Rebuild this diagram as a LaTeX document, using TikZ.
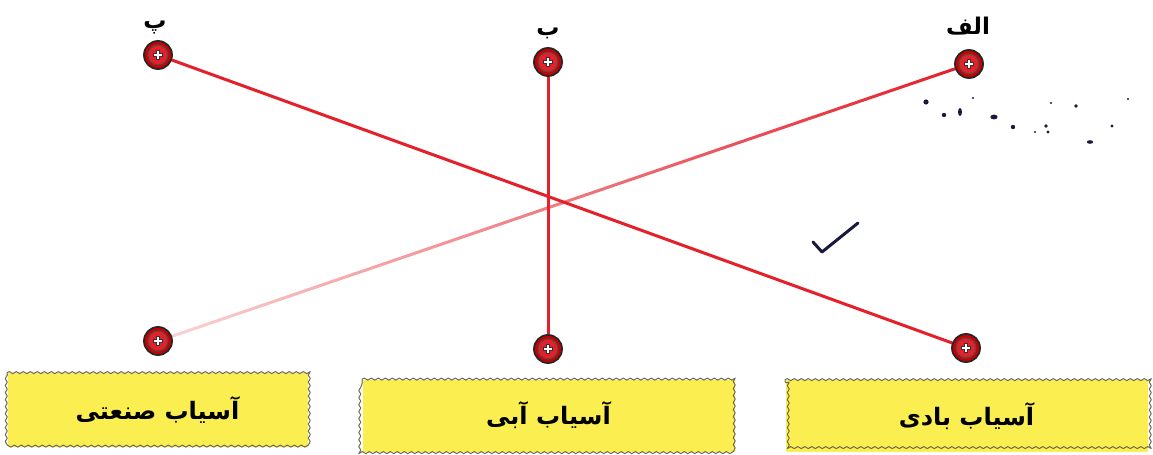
\documentclass[tikz,border=0pt]{standalone}
\usepackage{fontspec}
\newfontfamily\arabicfont[Script=Arabic,BoldFont={DejaVu Sans Bold}]{DejaVu Sans}
\TeXXeTstate=1
\usetikzlibrary{decorations.pathmorphing,fadings}
\definecolor{wire}{RGB}{228,32,42}
\definecolor{boxyellow}{RGB}{250,238,80}
\definecolor{boxedge}{RGB}{110,105,80}
\definecolor{ink}{RGB}{25,25,60}
\tikzfading[name=fadewest, left color=transparent!80, middle color=transparent!35, right color=transparent!0]
\tikzset{
  screw/.style={circle, draw=black!85, line width=0.9pt, fill=red!80!black, minimum size=14pt, inner sep=0pt,
    path picture={
      \fill[wire] (path picture bounding box.center) circle (5pt);
      \draw[black!70, line width=0.5pt] (path picture bounding box.center) circle (5pt);
      \draw[black!80, line width=2.4pt] ([xshift=-2.3pt]path picture bounding box.center) -- ([xshift=2.3pt]path picture bounding box.center);
      \draw[black!80, line width=2.4pt] ([yshift=-2.3pt]path picture bounding box.center) -- ([yshift=2.3pt]path picture bounding box.center);
      \draw[white, line width=1.3pt] ([xshift=-2pt]path picture bounding box.center) -- ([xshift=2pt]path picture bounding box.center);
      \draw[white, line width=1.3pt] ([yshift=-2pt]path picture bounding box.center) -- ([yshift=2pt]path picture bounding box.center);
    }},
  namebox/.style={fill=boxyellow, inner sep=0pt,
    font=\arabicfont\bfseries\fontsize{12}{14}\selectfont},
  wavyedge/.style={draw=boxedge, line width=0.5pt, line join=round,
    decorate, decoration={snake, segment length=3.5pt, amplitude=0.5pt}},
  toplabel/.style={font=\arabicfont\bfseries\fontsize{11.5}{14}\selectfont, inner sep=0pt, anchor=base},
  wireline/.style={wire, line width=1.5pt},
  speck/.style={fill=ink}
}
\begin{document}
\begin{tikzpicture}[x=0.5pt,y=-0.5pt]
\useasboundingbox (0,0) rectangle (1153,455);
% top screws and labels
\node[screw] (p1) at (158,55) {};
\node[screw] (b1) at (548,62) {};
\node[screw] (a1) at (969,64) {};
\node[toplabel] (lp) at (155,28) {\beginR پ\endR};
\node[toplabel] (lb) at (548,35) {\beginR ب\endR};
\node[toplabel] (la) at (968,34) {\beginR الف\endR};
% bottom screws
\node[screw] (p2) at (158,341) {};
\node[screw] (b2) at (548,349) {};
\node[screw] (a2) at (966,348) {};
% boxes
\node[namebox, minimum width=150pt, minimum height=37pt] (bx1) at (157.5,410) {\beginR آسیاب صنعتی\endR};
\node[namebox, minimum width=186pt, minimum height=36pt] (bx2) at (548.5,415.5) {\beginR آسیاب آبی\endR};
\node[namebox, minimum width=181pt, minimum height=36pt] (bx3) at (966.5,416) {\beginR آسیاب بادی\endR};
\draw[wavyedge] (bx1.north west) -- (bx1.north east) -- (bx1.south east) -- (bx1.south west) -- cycle;
\draw[wavyedge] (bx2.north west) -- (bx2.north east) -- (bx2.south east) -- (bx2.south west) -- cycle;
\draw[wavyedge] (bx3.north west) -- (bx3.north east) -- (bx3.south east) -- (bx3.south west) -- cycle;
% wires
\draw[wireline] (p1) -- (a2);
\draw[wireline] (b1) -- (b2);
\draw[wireline, path fading=fadewest] (a1) -- (p2);
% check mark
\coordinate (c1) at (813,242);
\coordinate (c2) at (822,252);
\coordinate (c3) at (858,223);
\draw[ink, line width=1.5pt, line cap=round, line join=round] (c1) -- (c2) -- (c3);
% ink specks
\fill[speck] (926,102) circle (1.3pt);
\fill[speck] (944,115) circle (1.1pt);
\fill[speck] (960,112) ellipse (1pt and 2pt);
\fill[speck] (994,117) ellipse (1.8pt and 1.2pt);
\fill[speck] (1013,127) circle (1.1pt);
\fill[speck] (1046,126) circle (0.9pt);
\fill[speck] (1048,132) circle (0.8pt);
\fill[speck] (1076,106) circle (0.9pt);
\fill[speck] (1090,142) ellipse (1.6pt and 0.9pt);
\fill[speck] (1112,126) circle (0.8pt);
\fill[speck] (1035,132) circle (0.6pt);
\fill[speck] (973,98) circle (0.6pt);
\fill[speck] (1128,99) circle (0.6pt);
\fill[speck] (1051,103) circle (0.6pt);
\end{tikzpicture}
\end{document}
